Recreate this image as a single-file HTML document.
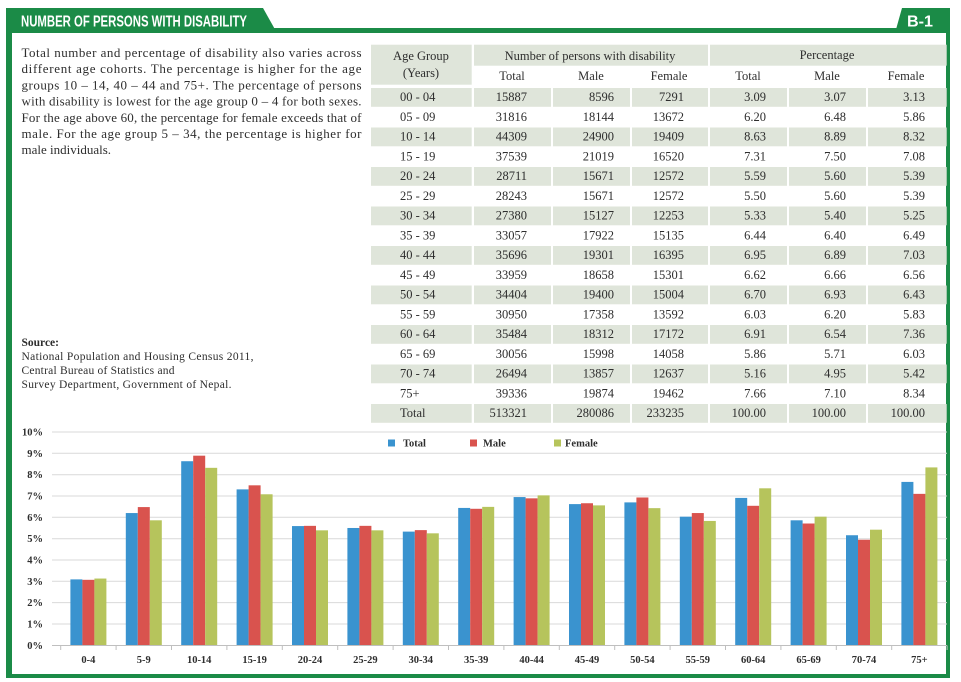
<!DOCTYPE html>
<html><head><meta charset="utf-8"><style>
html,body{margin:0;padding:0;background:#fff;}
svg{display:block;}
.s{font-family:"Liberation Serif",serif;fill:#2e2e2e;}
.b{font-weight:bold;}
</style></head><body>
<svg width="961" height="682" viewBox="0 0 961 682" xmlns="http://www.w3.org/2000/svg">
<rect width="961" height="682" fill="#fff"/>
<!-- frame -->
<g fill="#1b8b47">
<polygon points="6,8 263,8 277,33 6,33"/>
<polygon points="902,8 950,8 950,33 895,33"/>
<rect x="6" y="28" width="944" height="5"/>
<rect x="6" y="28" width="6" height="650"/>
<rect x="946" y="28" width="4" height="650"/>
<rect x="6" y="674" width="944" height="4"/>
</g>
<text x="21" y="26.5" font-family="'Liberation Sans Narrow','Liberation Sans',sans-serif" font-weight="bold" font-size="16" fill="#fff" textLength="226" lengthAdjust="spacingAndGlyphs">NUMBER OF PERSONS WITH DISABILITY</text>
<text x="907" y="26.5" font-family="'Liberation Sans Narrow','Liberation Sans',sans-serif" font-weight="bold" font-size="16" fill="#fff" textLength="26" lengthAdjust="spacingAndGlyphs">B-1</text>

<!-- paragraph -->
<g class="s" font-size="13">
<text x="21.5" y="57" textLength="340" lengthAdjust="spacing">Total number and percentage of disability also varies across</text>
<text x="21.5" y="73.2" textLength="340" lengthAdjust="spacing">different age cohorts. The percentage is higher for the age</text>
<text x="21.5" y="89.4" textLength="340" lengthAdjust="spacing">groups 10 – 14, 40 – 44 and 75+. The percentage of persons</text>
<text x="21.5" y="105.6" textLength="340" lengthAdjust="spacing">with disability is lowest for the age group 0 – 4 for both sexes.</text>
<text x="21.5" y="121.8" textLength="340" lengthAdjust="spacing">For the age above 60, the percentage for female exceeds that of</text>
<text x="21.5" y="138" textLength="340" lengthAdjust="spacing">male. For the age group   5 – 34, the percentage is higher for</text>
<text x="21.5" y="154.2">male individuals.</text>
</g>
<g class="s" font-size="11.5">
<text x="21.5" y="346" font-weight="bold">Source:</text>
<text x="21.5" y="360" textLength="232" lengthAdjust="spacing">National Population and Housing Census 2011,</text>
<text x="21.5" y="374" textLength="153" lengthAdjust="spacing">Central Bureau of Statistics and</text>
<text x="21.5" y="388" textLength="210" lengthAdjust="spacing">Survey Department, Government of Nepal.</text>
</g>

<!-- table backgrounds -->
<g fill="#dfe5da">
<rect x="371" y="44.7" width="100.7" height="40"/>
<rect x="474" y="44.7" width="234" height="21"/>
<rect x="710" y="44.7" width="236.7" height="21"/>
</g>
<g id="rows" fill="#dfe5da"></g>

<g class="s" font-size="12.5" text-anchor="middle">
<text x="421" y="60">Age Group</text>
<text x="421" y="77">(Years)</text>
<text x="590" y="60">Number of persons with disability</text>
<text x="827" y="59">Percentage</text>
<text x="512" y="80">Total</text>
<text x="591" y="80">Male</text>
<text x="669" y="80">Female</text>
<text x="748" y="80">Total</text>
<text x="827" y="80">Male</text>
<text x="906" y="80">Female</text>
</g>
<g id="tbl" class="s" font-size="12.5"></g>

<!-- chart -->
<g stroke="#d9d9d9" stroke-width="1">
<line x1="52" x2="947" y1="624" y2="624"/>
<line x1="52" x2="947" y1="602.6" y2="602.6"/>
<line x1="52" x2="947" y1="581.3" y2="581.3"/>
<line x1="52" x2="947" y1="560" y2="560"/>
<line x1="52" x2="947" y1="538.7" y2="538.7"/>
<line x1="52" x2="947" y1="517.3" y2="517.3"/>
<line x1="52" x2="947" y1="496" y2="496"/>
<line x1="52" x2="947" y1="474.7" y2="474.7"/>
<line x1="52" x2="947" y1="453.3" y2="453.3"/>
<line x1="52" x2="947" y1="432" y2="432"/>
</g>
<g class="s" font-size="10.5" font-weight="bold" text-anchor="end">
<text x="43" y="649">0%</text>
<text x="43" y="627.5">1%</text>
<text x="43" y="606">2%</text>
<text x="43" y="585">3%</text>
<text x="43" y="563.5">4%</text>
<text x="43" y="542">5%</text>
<text x="43" y="521">6%</text>
<text x="43" y="499.5">7%</text>
<text x="43" y="478">8%</text>
<text x="43" y="457">9%</text>
<text x="43" y="435.5">10%</text>
</g>
<!-- legend -->
<rect x="388" y="439.5" width="7" height="7" fill="#3a93cf"/>
<rect x="470" y="439.5" width="7" height="7" fill="#d9534e"/>
<rect x="554" y="439.5" width="7" height="7" fill="#b6c45c"/>
<g class="s" font-size="10.5" font-weight="bold">
<text x="403" y="446.5">Total</text>
<text x="483" y="446.5">Male</text>
<text x="565" y="446.5">Female</text>
</g>
<g id="bars"></g>
<line x1="52" x2="947" y1="645.5" y2="645.5" stroke="#bfbfbf" stroke-width="1"/>
<g id="ticks" stroke="#bfbfbf" stroke-width="1"></g>
<g id="xl" class="s" font-size="10.5" font-weight="bold" text-anchor="middle"></g>
</svg>
<script>
(function(){
var NS="http://www.w3.org/2000/svg";
function el(t,a,txt){var e=document.createElementNS(NS,t);for(var k in a)e.setAttribute(k,a[k]);if(txt!==undefined)e.textContent=txt;return e;}
var rows=[
["00 - 04","15887","8596","7291","3.09","3.07","3.13"],
["05 - 09","31816","18144","13672","6.20","6.48","5.86"],
["10 - 14","44309","24900","19409","8.63","8.89","8.32"],
["15 - 19","37539","21019","16520","7.31","7.50","7.08"],
["20 - 24","28711","15671","12572","5.59","5.60","5.39"],
["25 - 29","28243","15671","12572","5.50","5.60","5.39"],
["30 - 34","27380","15127","12253","5.33","5.40","5.25"],
["35 - 39","33057","17922","15135","6.44","6.40","6.49"],
["40 - 44","35696","19301","16395","6.95","6.89","7.03"],
["45 - 49","33959","18658","15301","6.62","6.66","6.56"],
["50 - 54","34404","19400","15004","6.70","6.93","6.43"],
["55 - 59","30950","17358","13592","6.03","6.20","5.83"],
["60 - 64","35484","18312","17172","6.91","6.54","7.36"],
["65 - 69","30056","15998","14058","5.86","5.71","6.03"],
["70 - 74","26494","13857","12637","5.16","4.95","5.42"],
["75+","39336","19874","19462","7.66","7.10","8.34"],
["Total","513321","280086","233235","100.00","100.00","100.00"]];
var cols=[[371,100.7],[474,77],[553,77],[632,76],[710,77],[789,77],[868,78.7]];
var rights=[527,614,684,766,846,925];
var rg=document.getElementById("rows"),tg=document.getElementById("tbl");
rows.forEach(function(r,i){
 var y=88+19.75*i;
 if(i%2===0){cols.forEach(function(c){rg.appendChild(el("rect",{x:c[0],y:y.toFixed(2),width:c[1],height:18.8}));});}
 tg.appendChild(el("text",{x:400,y:(y+13).toFixed(2)},r[0]));
 for(var j=1;j<7;j++){tg.appendChild(el("text",{x:rights[j-1],y:(y+13).toFixed(2),"text-anchor":"end"},r[j]));}
});
var T=[3.09,6.20,8.63,7.31,5.59,5.50,5.33,6.44,6.95,6.62,6.70,6.03,6.91,5.86,5.16,7.66];
var M=[3.07,6.48,8.89,7.50,5.60,5.60,5.40,6.40,6.89,6.66,6.93,6.20,6.54,5.71,4.95,7.10];
var F=[3.13,5.86,8.32,7.08,5.39,5.39,5.25,6.49,7.03,6.56,6.43,5.83,7.36,6.03,5.42,8.34];
var L=["0-4","5-9","10-14","15-19","20-24","25-29","30-34","35-39","40-44","45-49","50-54","55-59","60-64","65-69","70-74","75+"];
var bg=document.getElementById("bars"),tk=document.getElementById("ticks"),xl=document.getElementById("xl");
var base=645.3,sc=21.33,cw=55.4,x0=60.7;
var ser=[[T,"#3a93cf",-18],[M,"#d9534e",-6],[F,"#b6c45c",6]];
for(var i=0;i<16;i++){
 var c=x0+cw*(i+0.5);
 ser.forEach(function(s){var h=s[0][i]*sc;bg.appendChild(el("rect",{x:(c+s[2]).toFixed(2),y:(base-h).toFixed(2),width:12,height:h.toFixed(2),fill:s[1]}));});
 xl.appendChild(el("text",{x:c.toFixed(2),y:663},L[i]));
}
for(var k=0;k<=16;k++){var x=(x0+cw*k).toFixed(2);tk.appendChild(el("line",{x1:x,x2:x,y1:645.5,y2:650}));}
})();
</script>
</body></html>
